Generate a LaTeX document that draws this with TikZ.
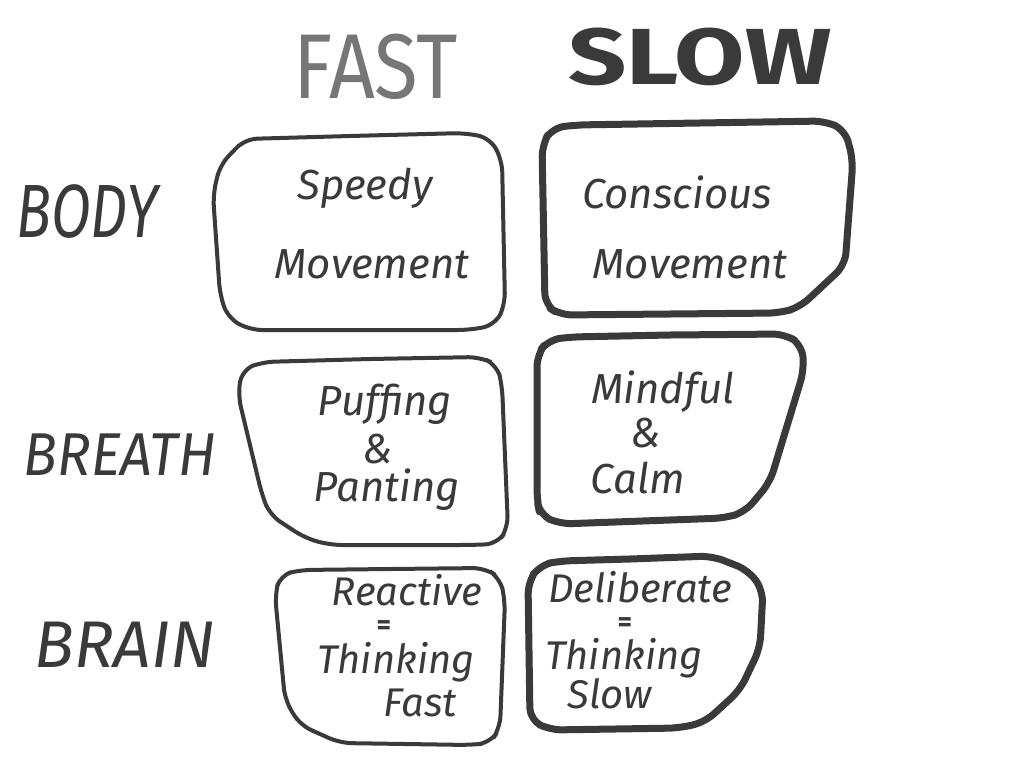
\documentclass[tikz,border=0pt]{standalone}
\usepackage{fontspec}
\setmainfont{Fira Sans}
\definecolor{ink}{HTML}{3A3A3A}
\definecolor{pale}{HTML}{767676}
\tikzset{
  fastbox/.style={draw=ink, line width=4pt, rounded corners=12pt, line join=round},
  slowbox/.style={draw=ink, line width=7pt, rounded corners=12pt, line join=round},
  txt/.style={text=ink, font=\itshape\fontsize{42}{44}\selectfont, inner sep=0pt},
  txts/.style={text=ink, font=\itshape\fontsize{40}{42}\selectfont, inner sep=0pt},
  eqs/.style={text=ink, font=\bfseries\fontsize{28}{28}\selectfont, inner sep=0pt},
  rowlab/.style={text=ink, inner sep=0pt},
}
\begin{document}
\begin{tikzpicture}[x=1pt,y=-1pt]
\useasboundingbox[fill=white] (0,0) rectangle (1024,768);
% headers
\node[text=pale, inner sep=0pt, font=\fontsize{80}{80}\selectfont] (hfast) at (376,67) {\scalebox{1}[1.15]{FAST}};
\node[text=ink, inner sep=0pt, font=\bfseries\fontsize{102}{102}\selectfont] (hslow) at (700,57) {\scalebox{1}[0.78]{SLOW}};
% row labels
\node[rowlab, font=\itshape\fontsize{58}{58}\selectfont] (lbody) at (87,212) {\scalebox{1}[1.3]{BODY}};
\node[rowlab, font=\itshape\fontsize{56}{56}\selectfont] (lbreath) at (120,455) {\scalebox{1}[1.08]{BREATH}};
\node[rowlab, font=\itshape\fontsize{66}{66}\selectfont] (lbrain) at (125,645) {\scalebox{1}[1.0]{BRAIN}};
% boxes
\draw[fastbox] (350,136) -- (465,133) -- (490,138) -- (502,160) -- (505,305) -- (495,325) -- (470,330) -- (250,330) -- (228,318) -- (220,295) -- (213,195) -- (220,165) -- (245,139) -- (350,136);
\draw[slowbox] (700,123) -- (825,121) -- (845,130) -- (853,160) -- (845,265) -- (800,307) -- (780,313) -- (560,315) -- (545,305) -- (542,145) -- (552,128) -- (575,125) -- (700,123);
\draw[fastbox] (370,359) -- (480,357) -- (497,365) -- (502,385) -- (508,528) -- (497,544) -- (470,545) -- (330,545) -- (305,538) -- (270,515) -- (262,495) -- (238,395) -- (242,370) -- (262,362) -- (370,359);
\draw[slowbox] (670,335) -- (785,334) -- (802,345) -- (804,370) -- (770,482) -- (745,512) -- (725,518) -- (560,524) -- (540,515) -- (537,500) -- (537,355) -- (548,340) -- (570,337) -- (670,335);
\draw[fastbox] (390,569) -- (485,568) -- (500,578) -- (505,600) -- (500,728) -- (490,743) -- (470,745) -- (340,743) -- (300,725) -- (285,700) -- (275,595) -- (280,575) -- (300,570) -- (390,569);
\draw[slowbox] (630,559) -- (712,556) -- (748,570) -- (763,590) -- (760,648) -- (740,690) -- (705,722) -- (680,728) -- (550,730) -- (530,720) -- (528,582) -- (540,565) -- (560,561) -- (630,559);
% box texts
\node[txt] (t1a) at (365,188) {Speedy};
\node[txt] (t1b) at (372,264) {Movement};
\node[txt] (t2a) at (677,192) {Conscious};
\node[txt] (t2b) at (690,264) {Movement};
\node[txt] (t3a) at (385,404) {Puffing};
\node[txt] (t3b) at (378,449) {\&};
\node[txt] (t3c) at (387,490) {Panting};
\node[txt] (t4a) at (663,392) {Mindful};
\node[txt] (t4b) at (646,433) {\&};
\node[txt] (t4c) at (638,478) {Calm};
\node[txts] (t5a) at (407,590) {Reactive};
\node[eqs] (t5b) at (384,628) {=};
\node[txts] (t5c) at (396,662) {Thinking};
\node[txts] (t5d) at (420,703) {Fast};
\node[txts] (t6a) at (640,587) {Deliberate};
\node[eqs] (t6b) at (625,625) {=};
\node[txts] (t6c) at (624,658) {Thinking};
\node[txts] (t6d) at (610,694) {Slow};
\end{tikzpicture}
\end{document}
